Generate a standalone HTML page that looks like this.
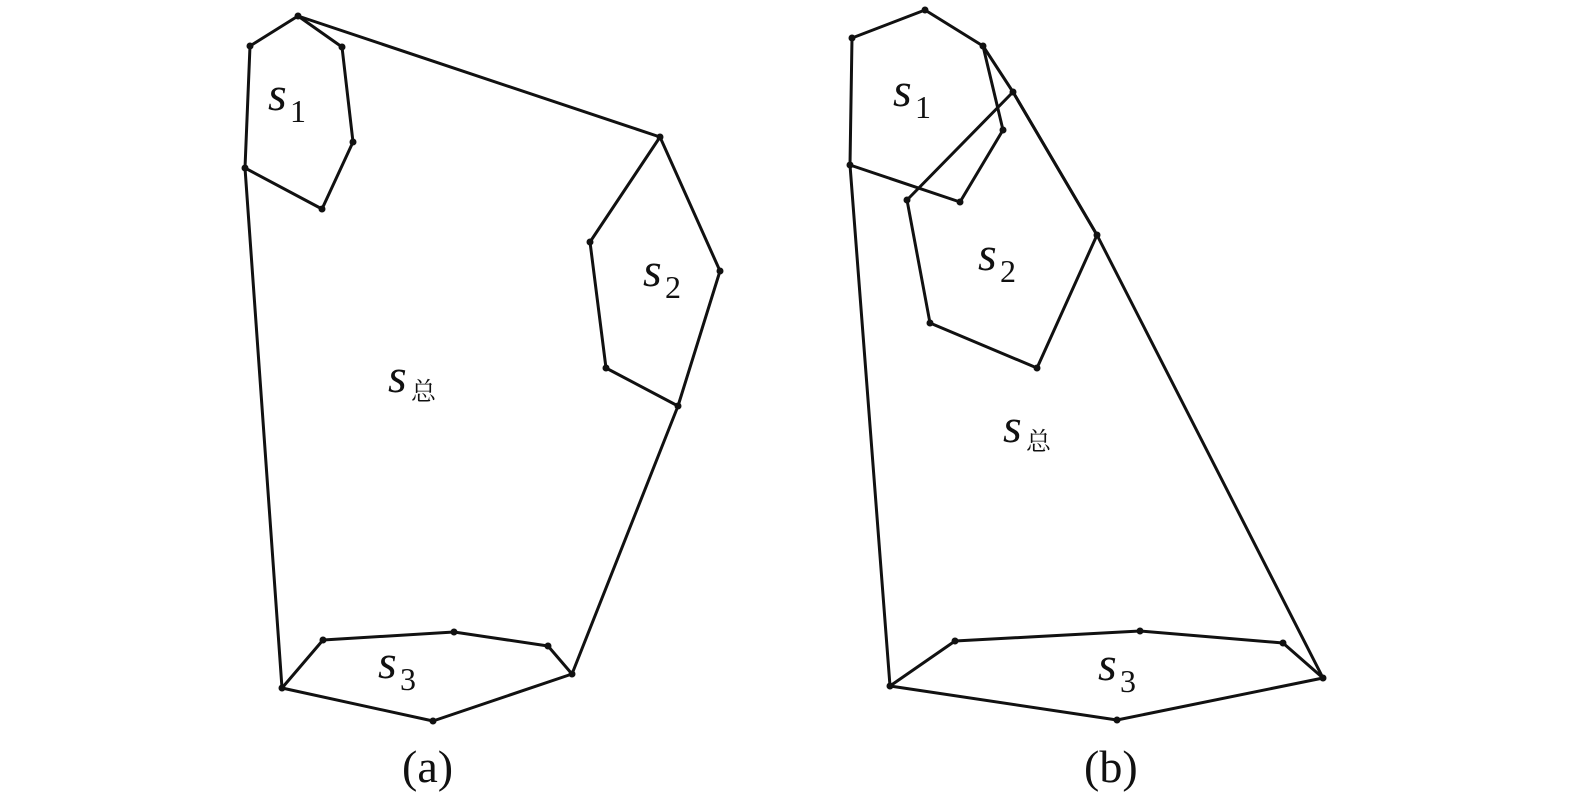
<!DOCTYPE html>
<html><head><meta charset="utf-8"><style>
html,body{margin:0;padding:0;background:#fff;}
svg{display:block}
.s{font-family:"Liberation Serif","DejaVu Serif",serif;font-style:italic;font-size:48px;fill:#111}
.sub{font-family:"Liberation Serif","DejaVu Serif",serif;font-size:32px;fill:#111}
.cj{font-family:"Noto Serif CJK SC","Noto Sans CJK SC",serif;font-size:25px;fill:#111}
.cap{font-family:"Liberation Serif","DejaVu Serif",serif;font-size:46px;fill:#111}
</style></head><body>
<svg width="1575" height="803" viewBox="0 0 1575 803" xmlns="http://www.w3.org/2000/svg">
<g fill="none" stroke="#111" stroke-width="3" stroke-linejoin="round">
<polygon points="250,46 298,16 342,47 353,142 322,209 245,168"/>
<polyline points="298,16 660,137 720,271 678,406 572,674 433,721 282,688 245,168"/>
<polyline points="660,137 590,242 606,368 678,406"/>
<polyline points="282,688 323,640 454,632 548,646 572,674"/>
<polygon points="852,38 925,10 983,46 1003,130 960,202 850,165"/>
<polygon points="907,200 1013,92 1097,235 1037,368 930,323"/>
<polyline points="983,46 1013,92 1097,235 1323,678 1117,720 890,686 850,165"/>
<polyline points="890,686 955,641 1140,631 1283,643 1323,678"/>
</g>
<g fill="#111">
<circle cx="250" cy="46" r="3.5"/><circle cx="298" cy="16" r="3.5"/><circle cx="342" cy="47" r="3.5"/><circle cx="353" cy="142" r="3.5"/><circle cx="322" cy="209" r="3.5"/><circle cx="245" cy="168" r="3.5"/>
<circle cx="660" cy="137" r="3.5"/><circle cx="720" cy="271" r="3.5"/><circle cx="678" cy="406" r="3.5"/><circle cx="572" cy="674" r="3.5"/><circle cx="433" cy="721" r="3.5"/><circle cx="282" cy="688" r="3.5"/>
<circle cx="590" cy="242" r="3.5"/><circle cx="606" cy="368" r="3.5"/><circle cx="323" cy="640" r="3.5"/><circle cx="454" cy="632" r="3.5"/><circle cx="548" cy="646" r="3.5"/>
<circle cx="852" cy="38" r="3.5"/><circle cx="925" cy="10" r="3.5"/><circle cx="983" cy="46" r="3.5"/><circle cx="1003" cy="130" r="3.5"/><circle cx="960" cy="202" r="3.5"/><circle cx="850" cy="165" r="3.5"/>
<circle cx="907" cy="200" r="3.5"/><circle cx="1013" cy="92" r="3.5"/><circle cx="1097" cy="235" r="3.5"/><circle cx="1037" cy="368" r="3.5"/><circle cx="930" cy="323" r="3.5"/>
<circle cx="1323" cy="678" r="3.5"/><circle cx="1117" cy="720" r="3.5"/><circle cx="890" cy="686" r="3.5"/><circle cx="955" cy="641" r="3.5"/><circle cx="1140" cy="631" r="3.5"/><circle cx="1283" cy="643" r="3.5"/>
</g>
<text class="s" x="268" y="110">s</text><text class="sub" x="290" y="122">1</text>
<text class="s" x="643" y="286">s</text><text class="sub" x="665" y="298">2</text>
<text class="s" x="388" y="392">s</text><text class="cj" x="411" y="400">总</text>
<text class="s" x="378" y="678">s</text><text class="sub" x="400" y="690">3</text>
<text class="cap" x="402" y="782">(a)</text>
<text class="s" x="893" y="106">s</text><text class="sub" x="915" y="118">1</text>
<text class="s" x="978" y="270">s</text><text class="sub" x="1000" y="282">2</text>
<text class="s" x="1003" y="442">s</text><text class="cj" x="1026" y="450">总</text>
<text class="s" x="1098" y="680">s</text><text class="sub" x="1120" y="692">3</text>
<text class="cap" x="1084" y="782">(b)</text>
</svg>
</body></html>
